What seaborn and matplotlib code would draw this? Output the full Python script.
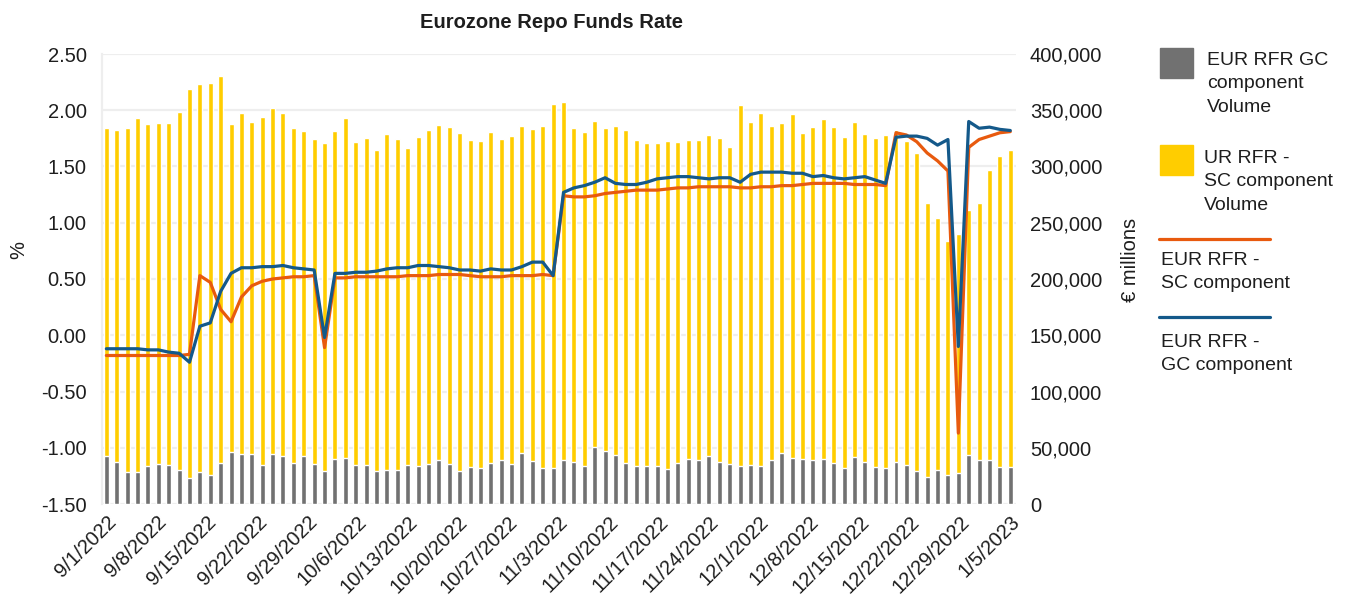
import numpy as np
import pandas as pd
import seaborn as sns
import matplotlib.pyplot as plt
from matplotlib.patches import Rectangle
from matplotlib.lines import Line2D
from matplotlib.ticker import FuncFormatter

# daily volumes, EUR millions (one value per business day, 9/1/2022 - 1/6/2023)
gc_vol = [42700, 37300, 28400, 28400, 33800, 35600, 34700, 30200, 23100, 28400,
          25800, 36400, 46200, 44400, 44400, 34700, 44400, 42700, 36400, 42700,
          35600, 29300, 40000, 40900, 34700, 34700, 29300, 30200, 30200, 34700,
          33800, 35600, 39100, 35600, 29300, 32900, 32000, 36400, 39100, 35600,
          45300, 38200, 32000, 32000, 39100, 37300, 33800, 50700, 47100, 43600,
          36400, 33800, 33800, 33800, 31100, 36400, 40000, 39100, 42700, 37300,
          35600, 33800, 34700, 33800, 39100, 45300, 40900, 40000, 39100, 40000,
          36400, 32000, 41800, 37300, 32900, 32000, 37300, 34700, 29300, 23700,
          30200, 25800, 27600, 43600, 39100, 39100, 32900, 32900]
sc_vol = [291200, 295100, 305500, 314400, 303700, 302800, 303700, 318200, 345800, 344900,
          348100, 344000, 291300, 303200, 295200, 309000, 307300, 304900, 297500, 288900,
          288500, 291300, 291600, 301900, 286800, 290300, 285400, 298400, 293900, 281400,
          292100, 296800, 297500, 299200, 300200, 290400, 290400, 294000, 285000, 291200,
          290400, 294800, 303700, 323600, 318200, 296600, 296600, 289400, 286800, 292100,
          295800, 289500, 286800, 286800, 291300, 285100, 283300, 284500, 285000, 287700,
          281400, 320600, 304600, 313500, 296600, 293100, 305500, 289500, 295700, 301900,
          298400, 293900, 297500, 291300, 292100, 295700, 294900, 287700, 282400, 243600,
          223700, 207700, 212400, 217400, 228200, 257500, 276100, 281500]

# rates, %
sc_rate = [-0.18, -0.18, -0.18, -0.18, -0.18, -0.18, -0.18, -0.18, -0.17, 0.53,
           0.47, 0.23, 0.12, 0.34, 0.44, 0.48, 0.50, 0.51, 0.52, 0.52,
           0.53, -0.11, 0.51, 0.51, 0.52, 0.52, 0.52, 0.52, 0.52, 0.53,
           0.53, 0.53, 0.54, 0.54, 0.54, 0.53, 0.52, 0.52, 0.52, 0.53,
           0.53, 0.53, 0.54, 0.53, 1.24, 1.23, 1.23, 1.24, 1.26, 1.27,
           1.28, 1.29, 1.29, 1.29, 1.30, 1.31, 1.31, 1.32, 1.32, 1.32,
           1.32, 1.31, 1.31, 1.32, 1.32, 1.33, 1.33, 1.34, 1.35, 1.35,
           1.35, 1.35, 1.34, 1.34, 1.34, 1.33, 1.80, 1.78, 1.72, 1.62,
           1.55, 1.46, -0.87, 1.67, 1.74, 1.77, 1.80, 1.81]
gc_rate = [-0.12, -0.12, -0.12, -0.12, -0.13, -0.13, -0.15, -0.16, -0.24, 0.08,
           0.11, 0.39, 0.55, 0.60, 0.60, 0.61, 0.61, 0.62, 0.60, 0.59,
           0.58, -0.02, 0.55, 0.55, 0.56, 0.56, 0.57, 0.59, 0.60, 0.60,
           0.62, 0.62, 0.61, 0.60, 0.58, 0.58, 0.57, 0.59, 0.58, 0.58,
           0.61, 0.65, 0.65, 0.53, 1.27, 1.31, 1.33, 1.36, 1.40, 1.35,
           1.34, 1.34, 1.36, 1.39, 1.40, 1.41, 1.41, 1.40, 1.39, 1.40,
           1.40, 1.36, 1.43, 1.45, 1.45, 1.45, 1.44, 1.44, 1.41, 1.42,
           1.40, 1.39, 1.40, 1.41, 1.38, 1.35, 1.76, 1.77, 1.77, 1.75,
           1.69, 1.74, -0.10, 1.90, 1.84, 1.85, 1.83, 1.82]

tick_labels = ['9/1/2022', '9/8/2022', '9/15/2022', '9/22/2022', '9/29/2022',
               '10/6/2022', '10/13/2022', '10/20/2022', '10/27/2022', '11/3/2022',
               '11/10/2022', '11/17/2022', '11/24/2022', '12/1/2022', '12/8/2022',
               '12/15/2022', '12/22/2022', '12/29/2022', '1/5/2023']

GRAY = '#717171'
YELLOW = '#FFCD00'
ORANGE = '#E85A0E'
BLUE = '#14598A'
TXT = '#1e1e1e'

df = pd.DataFrame({'day': np.arange(len(gc_vol)), 'gc': gc_vol, 'sc': sc_vol,
                   'sc_rate': sc_rate, 'gc_rate': gc_rate})
df['top'] = df['gc'] + df['sc']

sns.set_style('white')
plt.rcParams['font.family'] = ['Liberation Sans', 'DejaVu Sans']
plt.rcParams['font.size'] = 14

W, H = 1346, 599
fig = plt.figure(figsize=(W / 100, H / 100), dpi=100)
ax = fig.add_axes([102 / W, 1 - 504 / H, 914 / W, 450 / H])

# stacked volume bars: SC on top of GC
sns.barplot(data=df, x='day', y='top', color=YELLOW, saturation=1, width=0.48, ax=ax)
sns.barplot(data=df, x='day', y='gc', color=GRAY, saturation=1, width=0.48, ax=ax)

ax2 = ax.twinx()
sns.lineplot(data=df, x='day', y='sc_rate', color=ORANGE, lw=2.3, ax=ax2)
sns.lineplot(data=df, x='day', y='gc_rate', color=BLUE, lw=2.3, ax=ax2)

# volumes on the right, rates on the left
ax.yaxis.tick_right()
ax.yaxis.set_label_position('right')
ax2.yaxis.tick_left()
ax2.yaxis.set_label_position('left')

ax.set_ylim(0, 400000)
ax.set_yticks(np.arange(0, 400001, 50000))
ax.yaxis.set_major_formatter(FuncFormatter(lambda v, p: f'{v:,.0f}'))
ax2.set_ylim(-1.5, 2.5)
ax2.set_yticks(np.arange(-1.5, 2.51, 0.5))
ax2.yaxis.set_major_formatter(FuncFormatter(lambda v, p: f'{v:.2f}'))

ax.set_xlim(-0.42, 87.55)
ax.set_xticks(np.linspace(0, len(gc_vol) - 1, len(tick_labels)))
ax.set_xticklabels(tick_labels, rotation=45, ha='right', rotation_mode='anchor')
ax.set_xlabel('')

ax.grid(axis='y', color='#eeeeee', lw=1.6)
ax.set_axisbelow(True)
for a in (ax, ax2):
    for s in a.spines.values():
        s.set_visible(False)
    a.tick_params(length=0, colors=TXT, labelsize=14.5)
ax.spines['left'].set_visible(True)
ax.spines['left'].set_color('#eeeeee')
ax.spines['left'].set_linewidth(1.6)
ax.tick_params(axis='y', pad=10)
ax.tick_params(axis='x', pad=6)
ax2.tick_params(axis='y', pad=11)

ax.set_ylabel('€ millions', fontsize=14.5, color=TXT)
ax.yaxis.set_label_coords((1121 - 102) / 914, (504 - 260) / 450)
ax2.set_ylabel('%', fontsize=14.5, color=TXT)
ax2.yaxis.set_label_coords((28 - 102) / 914, (504 - 250) / 450)

fig.text(551 / W, 1 - 22 / H, 'Eurozone Repo Funds Rate', ha='center', va='center',
         fontsize=14.5, fontweight='bold', color=TXT)


# legend, drawn in figure pixels
def fx(x):
    return x / W


def fy(y):
    return 1 - y / H


fig.add_artist(Rectangle((fx(1160), fy(78)), 33 / W, 30 / H, color=GRAY, transform=fig.transFigure))
fig.add_artist(Rectangle((fx(1160), fy(175)), 33 / W, 30 / H, color=YELLOW, transform=fig.transFigure))
fig.add_artist(Line2D([fx(1159), fx(1270)], [fy(239), fy(239)], color=ORANGE, lw=2.3,
                      solid_capstyle='round', transform=fig.transFigure))
fig.add_artist(Line2D([fx(1159), fx(1270)], [fy(317), fy(317)], color=BLUE, lw=2.3,
                      solid_capstyle='round', transform=fig.transFigure))

legend_text = [(1207, 52, 'EUR RFR GC\ncomponent\nVolume'),
               (1204, 150, 'UR RFR -\nSC component\nVolume'),
               (1161, 252, 'EUR RFR -\nSC component'),
               (1161, 334, 'EUR RFR -\nGC component')]
for x, y, t in legend_text:
    fig.text(fx(x), fy(y), t, ha='left', va='top', fontsize=14, color=TXT, linespacing=1.5)

fig.savefig('out.png', dpi=100)
